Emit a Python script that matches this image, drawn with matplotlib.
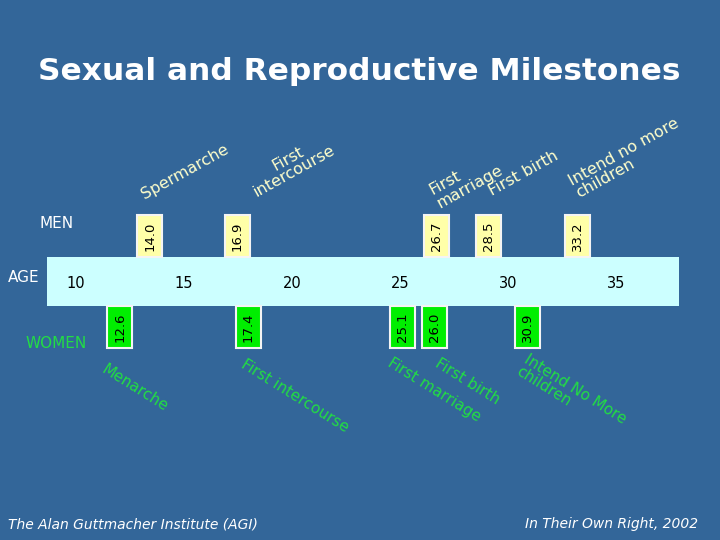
import matplotlib.pyplot as plt
from matplotlib.patches import Rectangle

# chart content
title = "Sexual and Reproductive Milestones"
age_ticks = [10, 15, 20, 25, 30, 35]
men_events = ["Spermarche", "First\nintercourse", "First\nmarriage",
              "First birth", "Intend no more\nchildren"]
men_ages = [14.0, 16.9, 26.7, 28.5, 33.2]
women_events = ["Menarche", "First intercourse", "First marriage",
                "First birth", "Intend No More\nchildren"]
women_ages = [12.6, 17.4, 25.1, 26.0, 30.9]
source_left = "The Alan Guttmacher Institute (AGI)"
source_right = "In Their Own Right, 2002"

# colours
bg = "#336699"
band_col = "#ccffff"
men_box = "#ffffa8"
women_box = "#00ee00"
men_txt = "#ffffcc"
women_txt = "#22dd44"

# layout (pixels, 720x540 slide)
px_per_year = 21.6
x10 = 76
band_x = (47, 679)
band_y = (257, 306)
box_w = 25 / px_per_year
# which side of the box sits on the age value (the slide is hand-laid out)
men_anchor = ["right", "left", "center", "left", "center"]
women_anchor = ["right", "left", "center", "left", "center"]
men_label_xy = [(185, 172), (291, 165), (466, 180), (523, 173), (627, 158)]
women_label_xy = [(135, 388), (295, 396), (434, 390), (467, 382), (571, 395)]


def age_of(px):
    return 10 + (px - x10) / px_per_year


def box_left(a, anchor):
    return {"right": a - box_w, "left": a, "center": a - box_w / 2}[anchor]


fig = plt.figure(figsize=(7.2, 5.4), dpi=100, facecolor=bg)

# axes in age units for the marks
ax = fig.add_axes([0, 0, 1, 1])
ax.set_xlim(age_of(0), age_of(720))
ax.set_ylim(540, 0)
ax.axis("off")

# pixel overlay for the text
tx = fig.add_axes([0, 0, 1, 1])
tx.set_xlim(0, 720)
tx.set_ylim(540, 0)
tx.axis("off")
tx.patch.set_alpha(0)

ax.add_patch(Rectangle((age_of(band_x[0]), band_y[0]),
                       age_of(band_x[1]) - age_of(band_x[0]),
                       band_y[1] - band_y[0], facecolor=band_col, edgecolor="none"))

for a in age_ticks:
    ax.text(a, 283, str(a), ha="center", va="center", fontsize=10.5, color="black")

for a, anc in zip(men_ages, men_anchor):
    x0 = box_left(a, anc)
    ax.add_patch(Rectangle((x0, band_y[0] - 42), box_w, 42,
                           facecolor=men_box, edgecolor="#f4f4f4", lw=1.5))
    ax.text(x0 + box_w / 2, band_y[0] - 21, f"{a:.1f}", rotation=90, ha="center",
            va="center", fontsize=9.5, color="black")

for a, anc in zip(women_ages, women_anchor):
    x0 = box_left(a, anc)
    ax.add_patch(Rectangle((x0, band_y[1]), box_w, 42,
                           facecolor=women_box, edgecolor="#f4f4f4", lw=1.5))
    ax.text(x0 + box_w / 2, band_y[1] + 21, f"{a:.1f}", rotation=90, ha="center",
            va="center", fontsize=9.5, color="black")

for lab, (x, y), ha in zip(men_events, men_label_xy,
                           ["center", "center", "left", "center", "left"]):
    tx.text(x, y, lab, rotation=29, rotation_mode="anchor", ha="center", va="center",
            multialignment=ha, fontsize=11.5, color=men_txt, linespacing=0.95)

for lab, (x, y) in zip(women_events, women_label_xy):
    tx.text(x, y, lab, rotation=-32, rotation_mode="anchor", ha="center", va="center",
            multialignment="left", fontsize=11, color=women_txt, linespacing=0.95)

tx.text(57, 224, "MEN", ha="center", va="center", fontsize=11, color="white")
tx.text(24, 277, "AGE", ha="center", va="center", fontsize=11, color="white")
tx.text(56, 344, "WOMEN", ha="center", va="center", fontsize=11, color=women_txt)

tx.text(359, 72, title, ha="center", va="center", fontsize=22.5, fontweight="bold",
        color="white")
tx.text(8, 524, source_left, ha="left", va="center", fontsize=10, style="italic",
        color="white")
tx.text(698, 524, source_right, ha="right", va="center", fontsize=10, style="italic",
        color="white")

fig.savefig("out.png", dpi=100, facecolor=bg)
